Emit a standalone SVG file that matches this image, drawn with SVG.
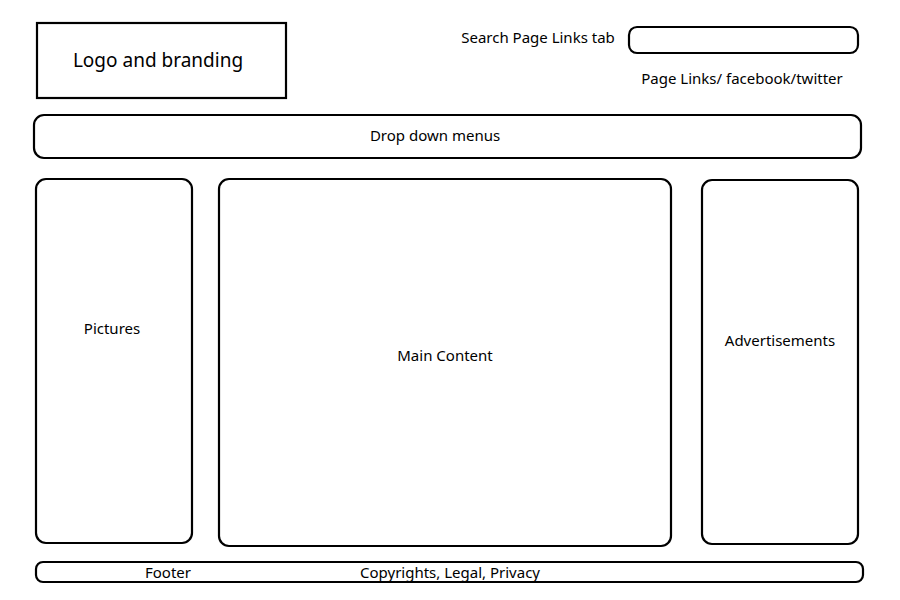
<svg xmlns="http://www.w3.org/2000/svg" width="900" height="600" viewBox="0 0 900 600">
<style>
.b{fill:#fff;stroke:#000;stroke-width:2.2}
.t{font-family:"Noto Sans","Liberation Sans",sans-serif;font-size:15px;fill:#000;text-anchor:middle}
</style>
<rect width="900" height="600" fill="#fff"/>
<g id="logo"><rect class="b" x="37" y="23" width="249" height="75"/><text class="t" x="158" y="67" style="font-size:19px">Logo and branding</text></g>
<g id="search-label"><text class="t" x="538" y="43">Search Page Links tab</text></g>
<g id="search"><rect class="b" x="629" y="27" width="229" height="26" rx="8"/></g>
<g id="page-links"><text class="t" x="742" y="84">Page Links/ facebook/twitter</text></g>
<g id="menu"><rect class="b" x="34" y="115" width="827" height="43" rx="10"/><text class="t" x="435" y="141">Drop down menus</text></g>
<g id="pictures"><rect class="b" x="36" y="179" width="156" height="364" rx="10"/><text class="t" x="112" y="334">Pictures</text></g>
<g id="main"><rect class="b" x="219" y="179" width="452" height="367" rx="10"/><text class="t" x="445" y="361">Main Content</text></g>
<g id="ads"><rect class="b" x="702" y="180" width="156" height="364" rx="10"/><text class="t" x="780" y="346">Advertisements</text></g>
<g id="footer"><rect class="b" x="36" y="562" width="827" height="20" rx="7"/><text class="t" x="168" y="578">Footer</text><text class="t" x="450" y="578">Copyrights, Legal, Privacy</text></g>
<g id="connectors"/>
</svg>
